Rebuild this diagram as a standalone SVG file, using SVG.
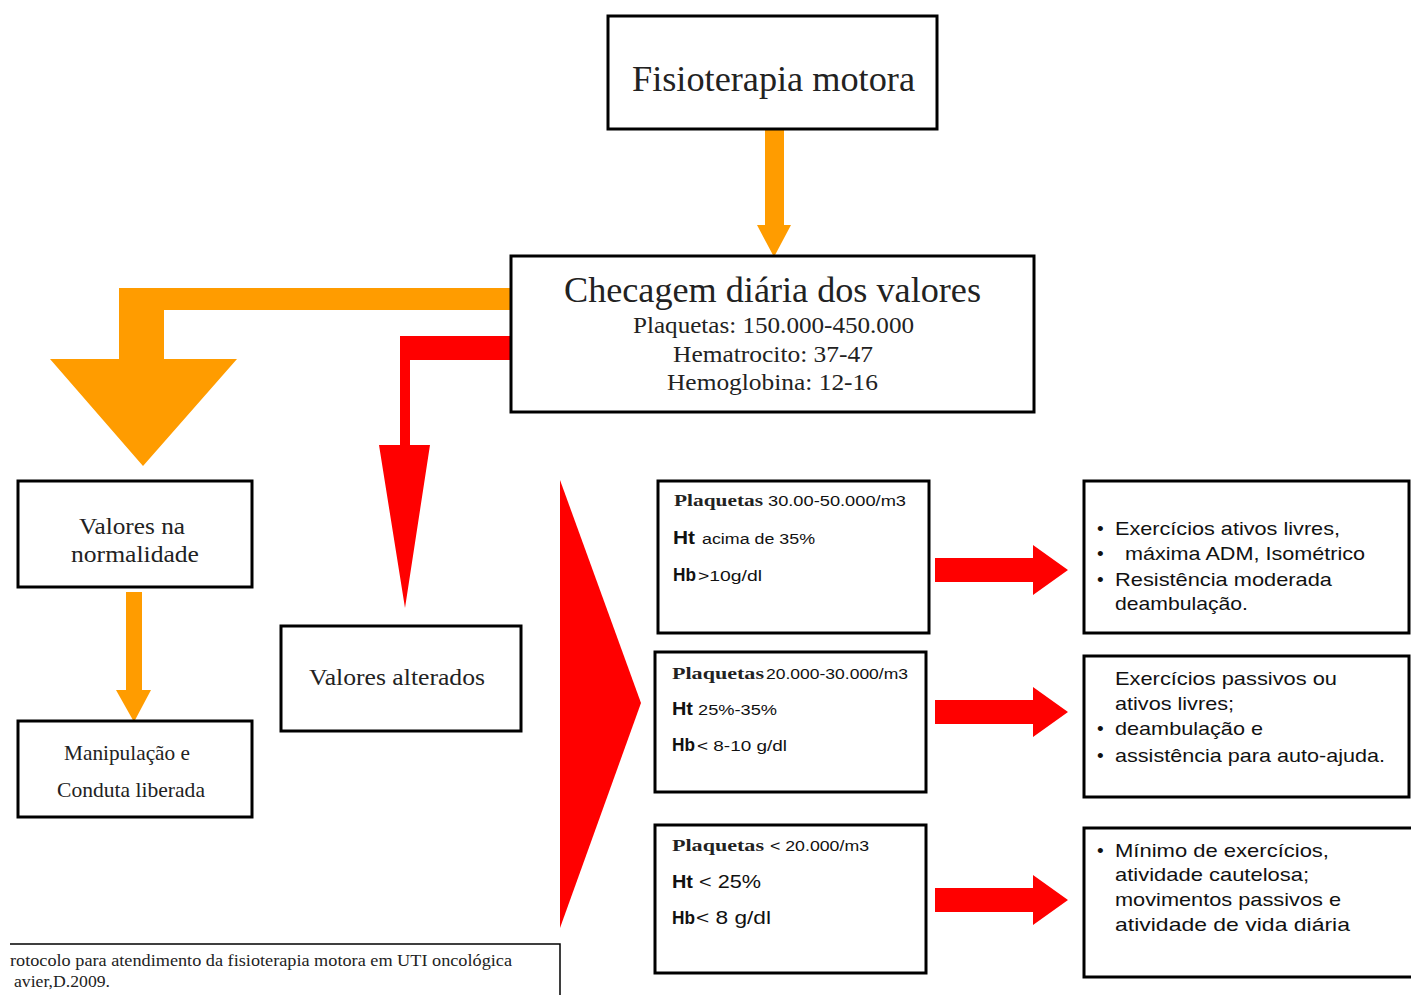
<svg xmlns="http://www.w3.org/2000/svg" width="1411" height="995" viewBox="0 0 1411 995">
<style>
.box{fill:#fff;stroke:#000;stroke-width:3}
.serif{font-family:"Liberation Serif","Times New Roman",serif;fill:#222}
.sans{font-family:"Liberation Sans",Arial,sans-serif;fill:#111}
.b{font-weight:bold}
.org{fill:#FF9C00}
.red{fill:#FF0000}
</style>
<g id="connectors">
<path class="org" d="M765,128 H784 V225 H791 L774,257 L757,225 H765 Z"/>
<path class="org" d="M511,288 V310 H164 V359 H237 L143,466 L50,359 H119 V288 Z"/>
<path class="red" d="M511,336 V360 H410 V445 H430 L405,608 L379,445 H400 V336 Z"/>
<path class="org" d="M126,592 H142 V690 H151 L134,722 L116,690 H126 Z"/>
<polygon class="red" points="560,480 641,703 560,928"/>
<path class="red" d="M935,558 H1033 V545 L1068,570 L1033,595 V582 H935 Z"/>
<path class="red" d="M935,700 H1033 V687 L1068,712 L1033,737 V724 H935 Z"/>
<path class="red" d="M935,888 H1033 V875 L1068,900 L1033,925 V912 H935 Z"/>
</g>
<g id="n-fisioterapia">
<rect class="box" x="608" y="16" width="329" height="113"/>
<text class="serif" x="632" y="91" font-size="35" textLength="283" lengthAdjust="spacingAndGlyphs">Fisioterapia motora</text>
</g>
<g id="n-checagem">
<rect class="box" x="511" y="256" width="523" height="156"/>
<text class="serif" x="564" y="302" font-size="35" textLength="417" lengthAdjust="spacingAndGlyphs">Checagem diária dos valores</text>
<text class="serif" x="633" y="333" font-size="24" textLength="281" lengthAdjust="spacingAndGlyphs">Plaquetas: 150.000-450.000</text>
<text class="serif" x="673" y="362" font-size="24" textLength="200" lengthAdjust="spacingAndGlyphs">Hematrocito: 37-47</text>
<text class="serif" x="667" y="390" font-size="24" textLength="211" lengthAdjust="spacingAndGlyphs">Hemoglobina: 12-16</text>
</g>
<g id="n-normalidade">
<rect class="box" x="18" y="481" width="234" height="106"/>
<text class="serif" x="79" y="534" font-size="23" textLength="106" lengthAdjust="spacingAndGlyphs">Valores na</text>
<text class="serif" x="71" y="562" font-size="23" textLength="128" lengthAdjust="spacingAndGlyphs">normalidade</text>
</g>
<g id="n-manipulacao">
<rect class="box" x="18" y="721" width="234" height="96"/>
<text class="serif" x="64" y="760" font-size="21" textLength="126" lengthAdjust="spacingAndGlyphs">Manipulação e</text>
<text class="serif" x="57" y="797" font-size="21" textLength="148" lengthAdjust="spacingAndGlyphs">Conduta liberada</text>
</g>
<g id="n-alterados">
<rect class="box" x="281" y="626" width="240" height="105"/>
<text class="serif" x="309" y="685" font-size="24" textLength="176" lengthAdjust="spacingAndGlyphs">Valores alterados</text>
</g>
<g id="n-cond1">
<rect class="box" x="658" y="481" width="271" height="152"/>
<text class="serif b" x="674" y="506" font-size="17" textLength="89" lengthAdjust="spacingAndGlyphs">Plaquetas</text>
<text class="sans" x="768" y="506" font-size="14" textLength="138" lengthAdjust="spacingAndGlyphs">30.00-50.000/m3</text>
<text class="sans b" x="673" y="544" font-size="18" textLength="22" lengthAdjust="spacingAndGlyphs">Ht</text>
<text class="sans" x="702" y="544" font-size="14" textLength="113" lengthAdjust="spacingAndGlyphs">acima de 35%</text>
<text class="sans b" x="673" y="581" font-size="18" textLength="23" lengthAdjust="spacingAndGlyphs">Hb</text>
<text class="sans" x="698" y="581" font-size="14" textLength="64" lengthAdjust="spacingAndGlyphs">&gt;10g/dl</text>
</g>
<g id="n-cond2">
<rect class="box" x="655" y="652" width="271" height="140"/>
<text class="serif b" x="672" y="679" font-size="17" textLength="92" lengthAdjust="spacingAndGlyphs">Plaquetas</text>
<text class="sans" x="766" y="679" font-size="14" textLength="142" lengthAdjust="spacingAndGlyphs">20.000-30.000/m3</text>
<text class="sans b" x="672" y="715" font-size="18" textLength="21" lengthAdjust="spacingAndGlyphs">Ht</text>
<text class="sans" x="698" y="715" font-size="14" textLength="79" lengthAdjust="spacingAndGlyphs">25%-35%</text>
<text class="sans b" x="672" y="751" font-size="18" textLength="23" lengthAdjust="spacingAndGlyphs">Hb</text>
<text class="sans" x="697" y="751" font-size="14" textLength="90" lengthAdjust="spacingAndGlyphs">&lt; 8-10 g/dl</text>
</g>
<g id="n-cond3">
<rect class="box" x="655" y="825" width="271" height="148"/>
<text class="serif b" x="672" y="851" font-size="17" textLength="92" lengthAdjust="spacingAndGlyphs">Plaquetas</text>
<text class="sans" x="770" y="851" font-size="14" textLength="99" lengthAdjust="spacingAndGlyphs">&lt; 20.000/m3</text>
<text class="sans b" x="672" y="888" font-size="18" textLength="21" lengthAdjust="spacingAndGlyphs">Ht</text>
<text class="sans" x="699" y="888" font-size="18" textLength="62" lengthAdjust="spacingAndGlyphs">&lt; 25%</text>
<text class="sans b" x="672" y="924" font-size="18" textLength="23" lengthAdjust="spacingAndGlyphs">Hb</text>
<text class="sans" x="696" y="924" font-size="18" textLength="75" lengthAdjust="spacingAndGlyphs">&lt; 8 g/dl</text>
</g>
<g id="n-acao1">
<rect class="box" x="1084" y="481" width="325" height="152"/>
<text class="sans" x="1097" y="535" font-size="19">•</text>
<text class="sans" x="1115" y="535" font-size="19" textLength="225" lengthAdjust="spacingAndGlyphs">Exercícios ativos livres,</text>
<text class="sans" x="1097" y="560" font-size="19">•</text>
<text class="sans" x="1125" y="560" font-size="19" textLength="240" lengthAdjust="spacingAndGlyphs">máxima ADM, Isométrico</text>
<text class="sans" x="1097" y="586" font-size="19">•</text>
<text class="sans" x="1115" y="586" font-size="19" textLength="217" lengthAdjust="spacingAndGlyphs">Resistência moderada</text>
<text class="sans" x="1115" y="610" font-size="19" textLength="133" lengthAdjust="spacingAndGlyphs">deambulação.</text>
</g>
<g id="n-acao2">
<rect class="box" x="1084" y="656" width="325" height="141"/>
<text class="sans" x="1115" y="685" font-size="19" textLength="222" lengthAdjust="spacingAndGlyphs">Exercícios passivos ou</text>
<text class="sans" x="1115" y="710" font-size="19" textLength="119" lengthAdjust="spacingAndGlyphs">ativos livres;</text>
<text class="sans" x="1097" y="735" font-size="19">•</text>
<text class="sans" x="1115" y="735" font-size="19" textLength="148" lengthAdjust="spacingAndGlyphs">deambulação e</text>
<text class="sans" x="1097" y="762" font-size="19">•</text>
<text class="sans" x="1115" y="762" font-size="19" textLength="270" lengthAdjust="spacingAndGlyphs">assistência para auto-ajuda.</text>
</g>
<g id="n-acao3">
<rect class="box" x="1084" y="828" width="340" height="149"/>
<text class="sans" x="1097" y="857" font-size="19">•</text>
<text class="sans" x="1115" y="857" font-size="19" textLength="214" lengthAdjust="spacingAndGlyphs">Mínimo de exercícios,</text>
<text class="sans" x="1115" y="881" font-size="19" textLength="194" lengthAdjust="spacingAndGlyphs">atividade cautelosa;</text>
<text class="sans" x="1115" y="906" font-size="19" textLength="226" lengthAdjust="spacingAndGlyphs">movimentos passivos e</text>
<text class="sans" x="1115" y="931" font-size="19" textLength="235" lengthAdjust="spacingAndGlyphs">atividade de vida diária</text>
</g>
<g id="n-legenda">
<path d="M10,944 H560 V995" fill="none" stroke="#000" stroke-width="1.5"/>
<text class="serif" x="10" y="966" font-size="16" textLength="502" lengthAdjust="spacingAndGlyphs">rotocolo para atendimento da fisioterapia motora em UTI oncológica</text>
<text class="serif" x="14" y="987" font-size="16" textLength="96" lengthAdjust="spacingAndGlyphs">avier,D.2009.</text>
</g>
</svg>
